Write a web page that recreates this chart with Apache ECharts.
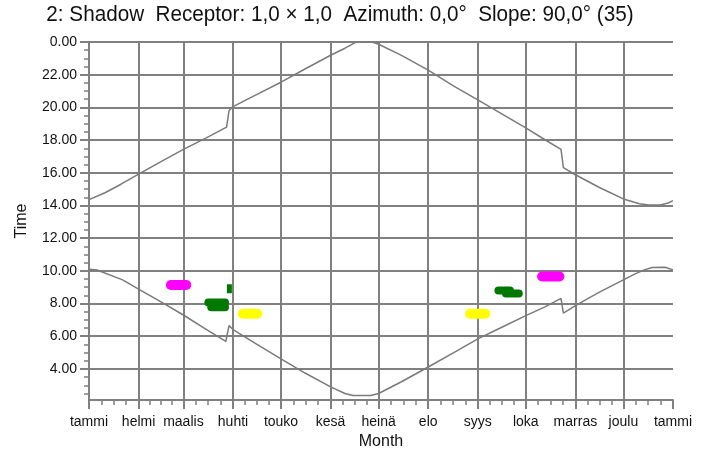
<!DOCTYPE html>
<html>
<head>
<meta charset="utf-8">
<script src="https://cdn.jsdelivr.net/npm/echarts@6/dist/echarts.min.js"></script>
<style>html,body{margin:0;padding:0;background:#fff}#c{width:709px;height:455px}</style>
</head>
<body>
<div id="c"></div>
<script>
const titleText = '2: Shadow  Receptor: 1,0 × 1,0  Azimuth: 0,0°  Slope: 90,0° (35)';
const monthLabels = ['tammi','helmi','maalis','huhti','touko','kesä','heinä','elo','syys','loka','marras','joulu','tammi'];
const monthStartDays = [0,31,59,90,120,151,181,212,243,273,304,334,365];
const hourTicks = [4,6,8,10,12,14,16,18,20,22,24];

// upper time curve (day of year, hour)
const upperDays  = [0, 10, 20, 31, 45, 59, 73, 86, 87.5, 90, 105, 120, 135, 151, 160, 164, 167, 177, 181, 195, 212, 228, 243, 258, 273, 285, 295, 296.5, 304, 319, 334, 344, 350, 357, 362, 365];
const upperHours = [14.36, 14.78, 15.3, 15.92, 16.68, 17.43, 18.12, 18.79, 19.8, 20.05, 20.8, 21.54, 22.35, 23.19, 23.62, 23.84, 24.0, 24.0, 23.86, 23.2, 22.28, 21.3, 20.46, 19.6, 18.75, 18.02, 17.43, 16.32, 15.88, 15.1, 14.4, 14.1, 14.03, 14.03, 14.15, 14.3];

// lower time curve
const lowerDays  = [0, 5, 21, 31, 45, 59, 72, 85.5, 87.5, 90, 105, 120, 135, 151, 160, 165, 176, 181, 195, 212, 228, 243, 258, 273, 285, 295, 296.5, 304, 319, 334, 341, 347, 352, 360, 365];
const lowerHours = [10.1, 10.05, 9.45, 8.88, 8.1, 7.3, 6.5, 5.68, 6.65, 6.41, 5.5, 4.62, 3.75, 2.9, 2.5, 2.37, 2.37, 2.5, 3.2, 4.12, 5.0, 5.84, 6.55, 7.26, 7.8, 8.32, 7.42, 7.87, 8.7, 9.45, 9.8, 10.06, 10.2, 10.22, 10.06];

// shadow flicker periods: start day, end day, hour, turbine group
const flickerStart = [51.2, 74.6, 76.4, 86.2, 96.2, 238.1, 255.9, 260.6, 283.2];
const flickerEnd   = [60.8, 85.0, 85.0, 89.3, 105.2, 247.7, 263.1, 268.6, 294.0];
const flickerHour  = [9.13, 8.07, 7.77, 8.9, 7.38, 7.38, 8.8, 8.62, 9.66];
const flickerGroup = ['A', 'B', 'B', 'B2', 'C', 'C', 'B', 'B', 'A'];

const groupColor = { A: '#ff00ff', B: '#007800', B2: '#007800', C: '#ffff00' };
const FONT = "'Liberation Sans', Arial, sans-serif";
const GRAY = '#808080';

const minorX = [];
for (let i = 0; i < monthStartDays.length - 1; i++) {
  const a = monthStartDays[i], b = monthStartDays[i + 1];
  for (let k = 1; k < 4; k++) minorX.push(a + (b - a) * k / 4);
}
const minorY = [];
for (let v = 2.5; v < 24; v += 0.5) if (v % 2 !== 0) minorY.push(v);

const toPairs = (xs, ys) => xs.map((x, i) => [x, ys[i]]);

const series = [
  { type: 'line', data: toPairs(upperDays, upperHours), showSymbol: false, symbol: 'none',
    lineStyle: { color: '#7a7a7a', width: 1.5 }, silent: true, z: 3 },
  { type: 'line', data: toPairs(lowerDays, lowerHours), showSymbol: false, symbol: 'none',
    lineStyle: { color: '#7a7a7a', width: 1.5 }, silent: true, z: 3 }
];
flickerStart.forEach((s, i) => {
  const g = flickerGroup[i];
  const narrow = g === 'B2';
  const w = g === 'B' ? 8 : (narrow ? 9 : 10);
  series.push({
    type: 'line', data: [[s, flickerHour[i]], [flickerEnd[i], flickerHour[i]]],
    showSymbol: false, symbol: 'none', silent: true, z: 4,
    lineStyle: { color: groupColor[g], width: w, cap: narrow ? 'butt' : 'round' }
  });
});

const chart = echarts.init(document.getElementById('c'), null, { renderer: 'canvas' });
chart.setOption({
  animation: false,
  backgroundColor: '#fff',
  textStyle: { fontFamily: FONT },
  graphic: [{
    type: 'text', x: 340, y: 15, scaleX: 0.94, scaleY: 1,
    style: { text: titleText, font: '22px ' + FONT, fill: '#111', align: 'center', verticalAlign: 'middle' }
  }],
  grid: { left: 89, right: 36, top: 42, bottom: 54, containLabel: false },
  xAxis: [{
    type: 'value', min: 0, max: 365, position: 'bottom',
    name: 'Month', nameLocation: 'middle', nameGap: 34,
    nameTextStyle: { fontSize: 16, color: '#111', fontFamily: FONT },
    axisLine: { show: true, lineStyle: { color: GRAY, width: 2 } },
    axisTick: { show: true, customValues: monthStartDays, length: 9, lineStyle: { color: GRAY, width: 2 } },
    axisLabel: { show: true, customValues: monthStartDays, margin: 15, fontSize: 14, color: '#111', fontFamily: FONT,
      formatter: v => monthLabels[monthStartDays.indexOf(Math.round(v))] },
    splitLine: { show: true, showMaxLine: false, lineStyle: { color: GRAY, width: 2 } }
  }, {
    type: 'value', min: 0, max: 365, position: 'bottom',
    axisLine: { show: false },
    axisTick: { show: true, customValues: minorX, length: 5, lineStyle: { color: GRAY, width: 1.5 } },
    axisLabel: { show: false },
    splitLine: { show: false }
  }],
  yAxis: [{
    type: 'value', min: 2.1, max: 24, position: 'left',
    name: 'Time', nameLocation: 'middle', nameGap: 59, nameRotate: 90,
    nameTextStyle: { fontSize: 16, color: '#111', fontFamily: FONT },
    axisLine: { show: true, lineStyle: { color: GRAY, width: 2 } },
    axisTick: { show: true, customValues: hourTicks, length: 9, lineStyle: { color: GRAY, width: 2 } },
    axisLabel: { show: true, customValues: hourTicks, margin: 12, fontSize: 14, color: '#111', fontFamily: FONT,
      formatter: v => (Math.abs(v - 24) < 1e-6 ? 0 : v).toFixed(2) },
    splitLine: { show: true, lineStyle: { color: GRAY, width: 2 } }
  }, {
    type: 'value', min: 2.1, max: 24, position: 'left',
    axisLine: { show: false },
    axisTick: { show: true, customValues: minorY, length: 5, lineStyle: { color: GRAY, width: 1.5 } },
    axisLabel: { show: false },
    splitLine: { show: false }
  }],
  series: series
});
</script>
</body>
</html>
